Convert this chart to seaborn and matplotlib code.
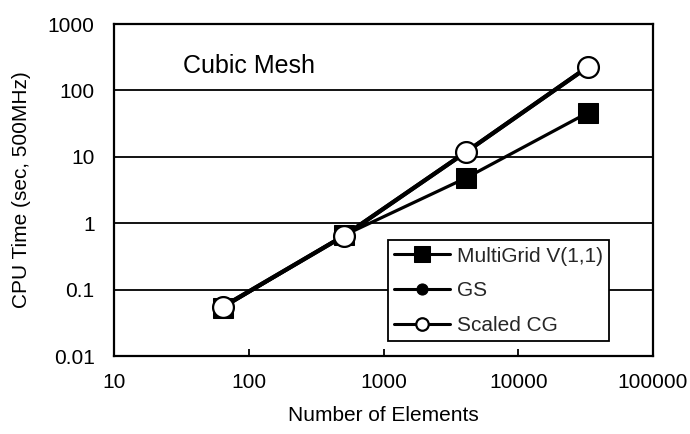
import matplotlib
matplotlib.use("Agg")
import matplotlib.pyplot as plt
import seaborn as sns
import numpy as np

elements = [64, 512, 4096, 32768]
multigrid = [0.053, 0.66, 4.8, 46]
gs = [0.055, 0.65, 11.8, 225]
scaled_cg = [0.055, 0.65, 11.8, 225]

x_ticks = [10, 100, 1000, 10000, 100000]
x_tick_labels = ["10", "100", "1000", "10000", "100000"]
y_ticks = [0.01, 0.1, 1, 10, 100, 1000]
y_tick_labels = ["0.01", "0.1", "1", "10", "100", "1000"]

sns.set_theme(style="white")
plt.rcParams['font.family'] = ['Liberation Sans', 'DejaVu Sans']

fig = plt.figure(figsize=(6.9, 4.34), dpi=100)
ax = fig.add_axes([114/690, 1-356/434, 539/690, 332/434])

sns.lineplot(x=elements, y=multigrid, ax=ax, color="black", linewidth=2.3,
             marker="s", markersize=15, markeredgecolor="black",
             markerfacecolor="black", label="MultiGrid V(1,1)", errorbar=None)
sns.lineplot(x=elements, y=gs, ax=ax, color="black", linewidth=3.0,
             marker="o", markersize=15, markeredgecolor="black",
             markerfacecolor="black", label="GS", errorbar=None)
sns.lineplot(x=elements, y=scaled_cg, ax=ax, color="black", linewidth=3.0,
             marker="o", markersize=15, markeredgecolor="black",
             markeredgewidth=1.6, markerfacecolor="white",
             label="Scaled CG", errorbar=None)

ax.set_xscale("log")
ax.set_yscale("log")
ax.set_xlim(10, 100000)
ax.set_ylim(0.01, 1000)
ax.set_xticks(x_ticks)
ax.set_xticklabels(x_tick_labels)
ax.set_yticks(y_ticks)
ax.set_yticklabels(y_tick_labels)
ax.minorticks_off()

for yv in y_ticks[1:-1]:
    ax.axhline(yv, color="black", linewidth=1.3, zorder=0.5)

ax.tick_params(axis="x", direction="in", length=5, width=1.3, color="black",
               labelsize=15, pad=12, bottom=True, top=False, labelcolor="black")
ax.tick_params(axis="y", length=0, labelsize=15, pad=14, labelcolor="black")

for s in ax.spines.values():
    s.set_color("black")
    s.set_linewidth(1.6)
    s.set_visible(True)

ax.set_xlabel("Number of Elements", fontsize=15, color="black", labelpad=10)
ax.set_ylabel("CPU Time (sec, 500MHz)", fontsize=15, color="black", labelpad=12)

ax.text(0.128, 0.852, "Cubic Mesh", transform=ax.transAxes, fontsize=18,
        color="black", va="baseline", ha="left")

leg = ax.legend(loc="lower left", bbox_to_anchor=(0.508, 0.045), fontsize=15,
                frameon=True, fancybox=False, framealpha=1, edgecolor="black",
                handlelength=2.7, handletextpad=0.3, labelspacing=0.75,
                borderpad=0.3, borderaxespad=0)
leg.get_frame().set_linewidth(1.3)
sizes = [11, 8, 9]
for h, ms in zip(leg.legend_handles, sizes):
    h.set_markersize(ms)
    h.set_linewidth(2.2)

fig.savefig("out.png", dpi=100, facecolor="white")
